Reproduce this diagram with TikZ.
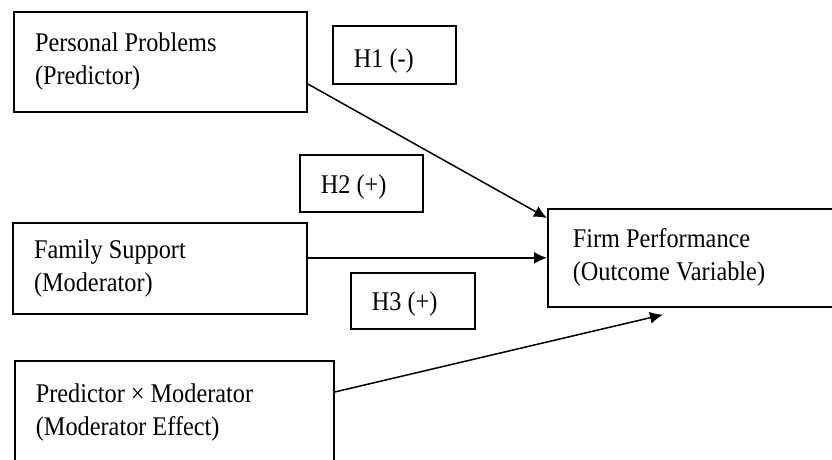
\documentclass[tikz,border=0pt]{standalone}
\usepackage{fontspec}
\setmainfont{Liberation Serif}[FakeStretch=0.9]
\usetikzlibrary{arrows.meta,calc}
\begin{document}
\begin{tikzpicture}[x=0.5pt,y=-0.5pt,
  box/.style={draw=black, line width=0.85pt, align=left, inner ysep=2pt,
    font=\fontsize{13.5}{16.5}\selectfont,
    execute at begin node={\spaceskip=3pt\xspaceskip=3pt}},
  hbox/.style={draw=black, line width=0.85pt, align=left, inner ysep=0pt,
    inner xsep=10.5pt, font=\fontsize{13.5}{16.5}\selectfont,
    execute at begin node={\spaceskip=3pt\xspaceskip=3pt}},
  arr/.style={draw=black, line width=0.75pt, -{Latex[length=6.5pt,width=6pt]}}]
\useasboundingbox (0,0) rectangle (832,460);
\clip (0,0) rectangle (832,460);
\fill[white] (0,0) rectangle (832,460);
% variable boxes
\node[box, inner xsep=10.5pt, text width=125.5pt, minimum height=50pt] (pp) at (160.5,62)
  {Personal Problems\\(Predictor)};
\node[box, inner xsep=10.5pt, text width=126pt, minimum height=45.5pt] (fs) at (160,268.5)
  {Family Support\\(Moderator)};
\node[box, inner xsep=10.5pt, text width=138.5pt, minimum height=65pt, anchor=north west] (pm) at (14,360)
  {Predictor \texttimes{} Moderator\\(Moderator Effect)\\\mbox{}};
\node[box, inner xsep=12.5pt, text width=141.5pt, minimum height=49pt, anchor=north west] (fp) at (547,208)
  {Firm Performance\\(Outcome Variable)};
% hypothesis boxes
\node[hbox, text width=40.5pt, text height=21pt, text depth=8pt, anchor=north west] (h1) at (332,25) {H1 (-)};
\node[hbox, text width=40.5pt, text height=19.5pt, text depth=9pt, anchor=north west] (h2) at (299,154) {H2 (+)};
\node[hbox, text width=41pt, text height=19pt, text depth=9pt, anchor=north west] (h3) at (350,272) {H3 (+)};
% arrows
\draw[arr] ([yshift=-11pt]pp.east) -- ([yshift=-5pt]fp.north west);
\draw[arr] (fs.east |- fp.west) -- (fp.west);
\draw[arr] ([yshift=-16pt]pm.north east) -- ([xshift=58pt,yshift=-3.5pt]fp.south west);
\end{tikzpicture}
\end{document}
